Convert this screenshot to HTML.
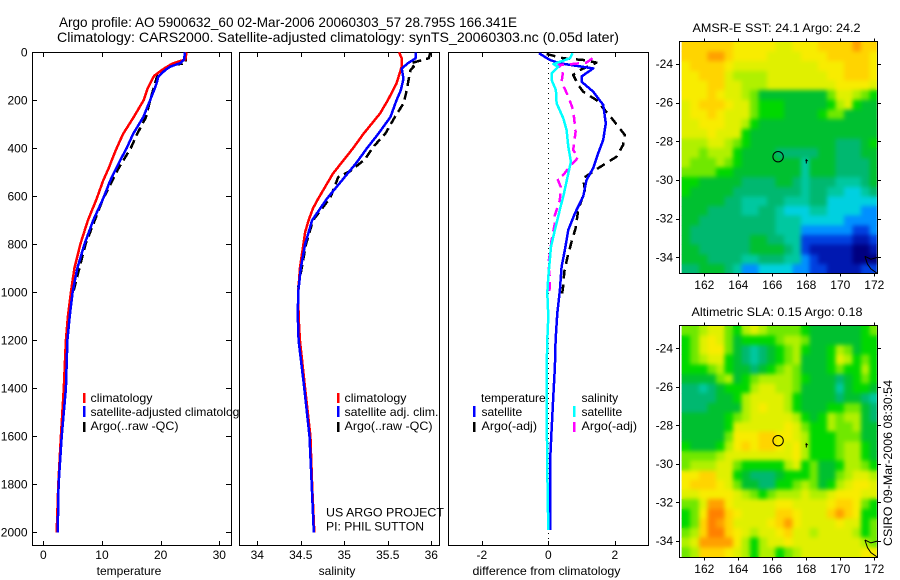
<!DOCTYPE html>
<html>
<head>
<meta charset="utf-8">
<title>Argo profile 5900632_60</title>
<style>
html,body{margin:0;padding:0;background:#fff;}
svg{display:block;font-family:"Liberation Sans",sans-serif;fill:#000;}
text{font-size:12px;}
.frame{fill:#fff;stroke:#000;stroke-width:1;shape-rendering:crispEdges;}
.mapframe{fill:none;stroke:#000;stroke-width:1;shape-rendering:crispEdges;}
.tick{stroke:#000;stroke-width:1;shape-rendering:crispEdges;}
.curve{fill:none;stroke-width:2.5;stroke-linejoin:round;shape-rendering:crispEdges;}
.mid{text-anchor:middle;}
.end{text-anchor:end;}
</style>
</head>
<body>
<svg id="chart" xmlns="http://www.w3.org/2000/svg" width="900" height="580" viewBox="0 0 900 580">
  <defs>
    <filter id="soften-sst" filterUnits="userSpaceOnUse" x="660" y="20" width="240" height="280" color-interpolation-filters="sRGB"><feGaussianBlur stdDeviation="2.2"/></filter>
    <filter id="soften-sla" filterUnits="userSpaceOnUse" x="660" y="305" width="240" height="275" color-interpolation-filters="sRGB"><feGaussianBlur stdDeviation="2.2"/></filter>
    <clipPath id="clip-sst"><rect x="681.7" y="42" width="195" height="231"/></clipPath>
    <clipPath id="clip-sla"><rect x="681.7" y="326" width="195" height="231"/></clipPath>
  </defs>
  <rect x="0" y="0" width="900" height="580" fill="#fff"/>
  <text x="59" y="27" style="font-size:14px" textLength="458" lengthAdjust="spacingAndGlyphs">Argo profile: AO 5900632_60 02-Mar-2006 20060303_57 28.795S 166.341E</text>
  <text x="57" y="42" style="font-size:14px" textLength="562" lengthAdjust="spacingAndGlyphs">Climatology: CARS2000. Satellite-adjusted climatology: synTS_20060303.nc (0.05d later)</text>

  <!-- Temperature panel -->
  <g id="panel-temp">
    <rect class="frame" x="32.5" y="52.5" width="199" height="493"/>
    <g id="temp-marks"></g>
    <rect x="83" y="393" width="2.5" height="10" fill="#f00"/>
    <rect x="83" y="406" width="2.5" height="11" fill="#00f"/>
    <rect x="83" y="422" width="2.5" height="10" fill="#000"/>
    <text x="90.5" y="402" textLength="62" lengthAdjust="spacingAndGlyphs">climatology</text>
    <text x="90.5" y="416" textLength="155" lengthAdjust="spacingAndGlyphs">satellite-adjusted climatology</text>
    <text x="90.5" y="430" textLength="88" lengthAdjust="spacingAndGlyphs">Argo(..raw -QC)</text>
    <text class="mid" x="129" y="575">temperature</text>
  </g>

  <!-- Salinity panel -->
  <g id="panel-sal">
    <rect class="frame" x="239.5" y="52.5" width="200" height="493"/>
    <g id="sal-marks"></g>
    <rect x="337" y="393" width="2.5" height="10" fill="#f00"/>
    <rect x="337" y="406" width="2.5" height="11" fill="#00f"/>
    <rect x="337" y="422" width="2.5" height="10" fill="#000"/>
    <text x="344.5" y="402" textLength="62" lengthAdjust="spacingAndGlyphs">climatology</text>
    <text x="344.5" y="416" textLength="94" lengthAdjust="spacingAndGlyphs">satellite adj. clim.</text>
    <text x="344.5" y="430" textLength="88" lengthAdjust="spacingAndGlyphs">Argo(..raw -QC)</text>
    <text x="326" y="516.5" textLength="118" lengthAdjust="spacingAndGlyphs">US ARGO PROJECT</text>
    <text x="326" y="530.5" textLength="98" lengthAdjust="spacingAndGlyphs">PI: PHIL SUTTON</text>
    <text class="mid" x="337" y="575">salinity</text>
  </g>

  <!-- Difference panel -->
  <g id="panel-diff">
    <rect class="frame" x="448.5" y="52.5" width="200" height="493"/>
    <g id="diff-marks"></g>
    <text x="481" y="402">temperature</text>
    <text x="581.5" y="402">salinity</text>
    <rect x="473" y="406" width="2.5" height="11" fill="#00f"/>
    <rect x="473" y="422" width="2.5" height="10" fill="#000"/>
    <rect x="573" y="406" width="2.5" height="11" fill="#0ff"/>
    <rect x="573" y="422" width="2.5" height="10" fill="#f0f"/>
    <text x="481.5" y="416">satellite</text>
    <text x="481.5" y="430" textLength="55.5" lengthAdjust="spacingAndGlyphs">Argo(-adj)</text>
    <text x="581.5" y="416">satellite</text>
    <text x="581.5" y="430" textLength="55.5" lengthAdjust="spacingAndGlyphs">Argo(-adj)</text>
    <text class="mid" x="546.5" y="575" textLength="148" lengthAdjust="spacingAndGlyphs">difference from climatology</text>
  </g>

  <!-- Maps -->
  <g id="map-sst"></g>
  <g id="map-sla"></g>
  <text x="692.5" y="32" textLength="168" lengthAdjust="spacingAndGlyphs">AMSR-E SST: 24.1  Argo: 24.2</text>
  <text x="691.5" y="316" textLength="171" lengthAdjust="spacingAndGlyphs">Altimetric SLA: 0.15  Argo: 0.18</text>
  <text transform="translate(892,546) rotate(-90)" textLength="166" lengthAdjust="spacingAndGlyphs">CSIRO 09-Mar-2006 08:30:54</text>
</svg>

<script>
// ---------- Axis tick labels ----------
const depthTicks = [0,200,400,600,800,1000,1200,1400,1600,1800,2000];
const tempTicks = [0,10,20,30];
const salTicks = [34,34.5,35,35.5,36];
const diffTicks = [-2,0,2];
const lonTicks = [162,164,166,168,170,172];
const latTicks = [24,26,28,30,32,34];

// ---------- Profile data ----------
const tempDepths = [0,30,46,60,74,96,102,130,150,200,270,340,400,450,480,535,610,700,800,900,1000,1100,1200,1400,1600,1800,2000];
const tempClim = [24.4,24.2,22.1,21.1,20.2,19.0,18.8,18.2,17.8,17.1,15.4,13.6,12.5,11.65,11.2,10.2,9.1,7.6,6.3,5.3,4.7,4.2,3.85,3.5,3.0,2.56,2.28];
const tempSat = [24.15,24.0,23.3,21.6,20.8,19.8,19.6,19.3,19.0,18.2,17.05,15.3,14.2,13.1,12.5,11.4,10.2,8.5,7.0,5.8,5.0,4.5,4.1,3.85,3.13,2.6,2.45];
const tempArgoDepths = [0,45,55,80,100,150,200,270,340,400,480,610,800,1000];
const tempArgo = [24.3,24.3,21.5,20.3,19.4,18.8,18.2,17.5,16.0,14.9,12.9,10.2,7.2,5.1];

const salDepths = [0,25,60,130,200,255,340,400,505,610,650,700,750,800,900,1000,1100,1200,1400,1600,1800,2000];
const salClim = [35.63,35.66,35.66,35.6,35.5,35.41,35.22,35.1,34.87,34.7,34.64,34.59,34.55,34.53,34.49,34.47,34.475,34.49,34.55,34.61,34.63,34.655];
const salSatDepths = [0,25,46,68,110,158,200,270,340,400,460,610,700,800,900,1000,1100,1200,1400,1600,1800,2000];
const salSat = [35.82,35.82,35.73,35.66,35.68,35.65,35.6,35.53,35.39,35.26,35.14,34.8,34.63,34.55,34.5,34.47,34.465,34.475,34.54,34.6,34.625,34.65];
const salArgoDepths = [0,25,46,60,75,170,213,270,340,395,445,495,520,605,700,800,1000];
const salArgo = [35.99,35.97,35.76,35.8,35.76,35.71,35.68,35.58,35.47,35.33,35.24,35.07,34.93,34.84,34.64,34.56,34.46];

const diffTempSatDepths = [4,32,46,67,101,122,164,219,296,365,421,483,532,601,671,740,823,893,990,1087,1198,1309,1434,1573,1712,1990];
const diffTempSat = [-0.28,0.05,0.35,1.35,1.0,1.0,1.35,1.65,1.73,1.65,1.5,1.35,1.15,1.05,0.8,0.6,0.5,0.4,0.35,0.27,0.22,0.2,0.15,0.1,0.05,0.05];
const diffSalSatDepths = [4,25,49,60,88,115,157,212,275,324,393,456,504,601,643,740,810,935,1004,1101,1198,1337,1448,1740,1990];
const diffSalSat = [0.73,0.65,0.15,0.3,0.1,0.1,0.23,0.25,0.45,0.55,0.6,0.68,0.6,0.45,0.37,0.2,0.08,0,-0.03,0,-0.03,-0.05,-0.05,-0.03,0];
const diffTempArgoDepths = [7,25,32,43,74,94,136,164,199,282,344,386,435,483,525,574,657,733,789,851,914,969,1025];
const diffTempArgo = [-0.05,0.45,1.05,1.45,0.95,0.75,0.9,1.05,1.45,1.95,2.3,2.25,2.05,1.5,1.05,1.1,0.9,0.82,0.7,0.58,0.48,0.45,0.4];
const diffSalArgoDepths = [25,43,49,53,74,122,185,240,331,407,438,476,511,525,560,615,678,712,782,837,879,949,1004];
const diffSalArgo = [1.33,1.15,0.7,0.3,0.45,0.4,0.6,0.75,0.82,0.75,0.9,0.65,0.45,0.27,0.37,0.35,0.2,0.2,0.1,0.05,0,0.05,0.03];

// ---------- Map data (colour index per half-degree cell) ----------
const sstGrid = [
[13,13,13,13,13,13,12,12,12,12,12,11,11,12,12,12,13,13,13,13,14,13,13],
[13,13,13,14,14,13,12,12,12,12,11,11,11,11,12,12,12,13,13,13,13,13,12],
[12,13,13,13,13,12,11,11,11,11,11,11,11,11,11,11,12,12,12,13,13,13,12],
[12,12,13,13,13,11,10,10,10,10,11,11,11,11,11,11,11,12,12,13,13,13,12],
[12,12,12,13,13,11,11,10,10,10,11,11,11,11,11,11,11,11,12,12,12,12,11],
[12,12,12,13,12,11,11,10,9,7,7,7,7,7,7,7,7,9,11,11,10,9,8],
[11,12,13,13,13,12,11,11,9,8,8,8,7,7,7,7,7,8,10,11,8,7,7],
[11,12,12,13,12,11,11,11,9,8,8,8,7,7,7,7,8,9,9,7,7,7,7],
[11,11,12,12,12,11,11,10,8,7,7,7,7,7,7,7,7,7,7,7,7,7,7],
[11,11,11,12,11,11,11,8,7,7,7,7,7,7,7,7,7,7,7,7,7,7,7],
[10,10,10,11,11,10,9,8,7,7,7,7,7,7,7,7,7,7,6,6,6,7,8],
[10,10,9,10,10,10,8,7,7,7,7,6,6,6,6,6,7,7,6,6,6,7,7],
[10,9,9,9,10,9,8,7,7,7,7,7,7,7,5,7,7,7,6,6,6,6,7],
[9,9,9,9,8,8,7,7,7,7,7,7,7,7,5,7,7,7,6,6,6,6,7],
[8,8,7,7,7,7,7,6,6,6,6,7,7,6,5,6,6,6,5,5,5,6,7],
[8,7,7,7,7,7,6,6,6,6,6,6,6,6,5,6,6,5,5,4,4,5,6],
[7,7,7,7,7,6,6,5,5,5,6,6,5,5,5,6,6,4,4,4,4,4,4],
[7,7,7,6,6,6,6,5,5,6,6,5,4,4,4,5,5,4,4,4,4,3,3],
[7,7,6,6,6,6,6,6,6,6,6,5,5,5,4,4,4,4,4,3,3,3,3],
[7,6,6,6,6,6,6,6,6,6,6,5,5,5,3,3,3,3,3,3,2,2,3],
[7,6,6,6,6,6,6,6,7,7,6,6,5,5,2,2,2,2,2,2,1,1,2],
[7,7,6,6,6,6,6,6,7,7,7,7,6,5,2,1,1,1,1,1,0,0,1],
[7,7,7,6,6,6,6,5,5,6,6,6,5,5,3,2,1,1,1,1,0,0,0],
[6,6,7,7,7,6,5,3,3,4,4,4,4,3,3,2,2,1,1,1,1,2,2]
];
const slaGrid = [
[9,9,10,11,11,9,8,10,11,10,9,9,9,9,8,7,7,7,7,7,7,8,9],
[8,9,11,12,11,9,7,8,8,8,8,9,10,10,9,7,7,7,7,7,7,8,8],
[8,9,11,12,12,9,7,6,5,6,7,8,9,10,8,7,7,8,10,9,7,8,8],
[8,9,10,11,11,8,7,6,5,6,7,8,9,10,7,7,7,8,11,10,8,9,8],
[8,8,8,9,10,8,7,7,6,7,8,9,10,9,7,7,7,8,9,8,8,10,8],
[7,7,7,7,9,10,7,8,9,10,10,10,10,9,8,7,7,7,6,7,8,9,8],
[6,6,5,6,7,8,8,8,10,11,11,10,10,9,7,7,7,7,5,7,8,8,7],
[6,6,6,6,7,7,8,10,11,11,11,11,10,8,7,7,7,7,6,7,7,6,5],
[6,6,6,7,7,7,7,10,11,12,11,11,10,8,7,7,7,8,8,9,9,7,6],
[7,7,7,7,7,8,9,10,11,11,11,11,11,10,8,7,8,10,9,10,10,7,6],
[7,7,7,7,7,8,11,11,11,11,11,11,12,11,9,8,8,10,9,9,10,7,7],
[7,7,7,7,7,9,12,12,12,13,13,12,12,11,10,8,8,8,9,9,9,7,7],
[8,7,7,7,8,10,12,13,12,13,13,12,11,12,10,8,8,8,9,10,10,8,7],
[9,9,9,9,10,11,11,11,11,11,11,11,11,12,10,8,8,8,9,10,10,8,7],
[9,10,10,10,11,11,9,8,8,8,8,8,10,11,8,9,7,7,8,10,10,9,8],
[12,12,13,13,11,11,8,7,6,6,6,7,8,8,8,9,7,7,9,10,11,11,10],
[12,13,13,13,12,11,9,7,7,6,6,8,8,9,10,9,7,8,10,11,12,12,11],
[11,11,12,12,12,12,11,10,9,8,9,10,10,10,11,10,10,11,12,12,12,11,11],
[9,9,11,14,14,12,11,11,11,11,11,12,12,11,11,11,11,12,13,13,12,9,8],
[8,9,12,15,15,13,12,11,11,11,11,13,13,12,11,11,11,13,14,13,12,8,8],
[8,9,13,15,14,13,11,11,11,11,12,13,14,12,11,11,11,11,12,11,11,8,9],
[9,10,13,15,15,13,12,11,10,11,11,12,13,11,11,10,11,11,11,11,10,8,9],
[10,11,14,14,14,14,12,10,8,10,11,11,12,11,11,11,11,11,11,11,11,10,9],
[9,10,13,13,13,12,11,10,8,10,10,8,9,10,11,11,11,11,11,11,11,12,12]
];
const colourRamp = ['#000080','#0018b0','#0040e0','#0090ff','#00d0e0','#00c8a0','#00b870','#00c030','#00d800','#70e800','#b0f000','#e0f000','#f8ec00','#ffd400','#ffa000','#ff8000'];
const floatLon = [166.341];
const floatLat = [28.795];
const trackLon = [167.95,168.05,168.0,168.0];
const trackLat = [29.0,29.0,28.95,29.15];
const coastLon = [171.45,171.6,171.8,172.2];
const coastLat = [33.95,34.35,34.6,34.85];
const coast2Lon = [171.45,171.8,172.2];
const coast2Lat = [33.95,34.1,34.0];

// ---------- Axis functions ----------
const NS = 'http://www.w3.org/2000/svg';
const yDepth = d => 52.3 + d * 0.24;
const xTemp = t => 43.3 + t * 5.867;
const xSal = s => 257.3 + (s - 34) * 87;
const xDiff = d => 548.3 + d * 33.25;
const xLon = l => 704.3 + (l - 162) * 17;
const ySst = l => 64 + (l - 24) * 19.33;
const ySla = l => 348.3 + (l - 24) * 19.27;

function mk(tag, parent, cls) {
  const el = document.createElementNS(NS, tag);
  if (cls) el.setAttribute('class', cls);
  parent.appendChild(el);
  return el;
}
function pts(xs, ys, fx, fy) {
  return xs.map((v, i) => fx(v).toFixed(1) + ',' + fy(ys[i]).toFixed(1)).join(' ');
}
function curve(parent, name, vals, depths, fx, color, dash) {
  const el = mk('polyline', parent, 'curve');
  
  
  el.setAttribute('points', pts(vals, depths, fx, yDepth));
  el.setAttribute('stroke', color);
  if (dash) el.setAttribute('stroke-dasharray', dash);
}
function tickLine(parent, x1, y1, x2, y2) {
  const el = mk('line', parent, 'tick');
  
  
  el.setAttribute('x1', x1);
  el.setAttribute('y1', y1);
  el.setAttribute('x2', x2);
  el.setAttribute('y2', y2);
}
function tickText(parent, x, y, str, cls) {
  const el = mk('text', parent, cls);
  
  
  el.setAttribute('x', x);
  el.setAttribute('y', y);
  el.textContent = str;
}
function xAxis(parent, ticks, fx) {
  ticks.forEach(t => {
    const x = Math.round(fx(t)) + 0.5;
    tickLine(parent, x, 53, x, 57);
    tickLine(parent, x, 545, x, 541);
    tickText(parent, fx(t), 559, String(t), 'mid');
  });
}

// ---------- Profile panels ----------
const tg = document.getElementById('temp-marks');
depthTicks.forEach(d => {
  const y = Math.round(yDepth(d)) + 0.5;
  tickLine(tg, 33, y, 37, y);
  tickLine(tg, 231, y, 226, y);
  tickText(tg, 27.5, yDepth(d) + 4, String(d), 'end');
});
xAxis(tg, tempTicks, xTemp);
curve(tg, 'temperature-argo-line', tempArgo, tempArgoDepths, xTemp, '#000', '9 5');
curve(tg, 'temperature-climatology-line', tempClim, tempDepths, xTemp, '#f00');
curve(tg, 'temperature-satellite-line', tempSat, tempDepths, xTemp, '#00f');

const sg = document.getElementById('sal-marks');
xAxis(sg, salTicks, xSal);
curve(sg, 'salinity-argo-line', salArgo, salArgoDepths, xSal, '#000', '9 5');
curve(sg, 'salinity-climatology-line', salClim, salDepths, xSal, '#f00');
curve(sg, 'salinity-satellite-line', salSat, salSatDepths, xSal, '#00f');

const dg = document.getElementById('diff-marks');
xAxis(dg, diffTicks, xDiff);
const zeroLine = mk('line', dg);


zeroLine.setAttribute('x1', Math.round(xDiff(0)) + 0.5);
zeroLine.setAttribute('x2', Math.round(xDiff(0)) + 0.5);
zeroLine.setAttribute('y1', 53);
zeroLine.setAttribute('y2', 545);
zeroLine.setAttribute('stroke', '#000');
zeroLine.setAttribute('stroke-dasharray', '1 4');
curve(dg, 'difference-temperature-argo-line', diffTempArgo, diffTempArgoDepths, xDiff, '#000', '9 6');
curve(dg, 'difference-temperature-satellite-line', diffTempSat, diffTempSatDepths, xDiff, '#00f');
curve(dg, 'difference-salinity-argo-line', diffSalArgo, diffSalArgoDepths, xDiff, '#f0f', '9 6');
curve(dg, 'difference-salinity-satellite-line', diffSalSat, diffSalSatDepths, xDiff, '#0ff');

// ---------- Maps ----------
function drawMap(parent, key, grid, fy, topLat, frameTop, frameH, labelY) {
  const clipGroup = mk('g', parent);
  
  
  clipGroup.setAttribute('clip-path', 'url(#clip-' + key + ')');
  const cells = mk('g', clipGroup);
  cells.setAttribute('id', key + '-cells');
  
  
  cells.setAttribute('shape-rendering', 'crispEdges');
  grid.forEach((row, r) => {
    row.forEach((v, c) => {
      const cell = mk('rect', cells);
      
      
      const lon0 = 160.67 + c * 0.502;
      const lat0 = topLat + r * 0.5;
      cell.setAttribute('x', xLon(lon0).toFixed(2));
      cell.setAttribute('y', fy(lat0).toFixed(2));
      cell.setAttribute('width', (xLon(lon0 + 0.502) - xLon(lon0) + 0.4).toFixed(2));
      cell.setAttribute('height', (fy(lat0 + 0.5) - fy(lat0) + 0.4).toFixed(2));
      cell.setAttribute('fill', colourRamp[v]);
    });
  });
  const soft = mk('use', clipGroup);
  
  
  soft.setAttribute('href', '#' + key + '-cells');
  soft.setAttribute('filter', 'url(#soften-' + key + ')');
  const frame = mk('rect', parent, 'mapframe');
  
  
  frame.setAttribute('x', 679.5);
  frame.setAttribute('y', frameTop);
  frame.setAttribute('width', 198);
  frame.setAttribute('height', frameH);
  lonTicks.forEach(l => {
    const x = Math.round(xLon(l)) + 0.5;
    tickLine(parent, x, frameTop - 3, x, frameTop);
    tickLine(parent, x, frameTop + frameH, x, frameTop + frameH + 3);
    tickText(parent, xLon(l), labelY, String(l), 'mid');
  });
  latTicks.forEach(l => {
    const y = Math.round(fy(l)) + 0.5;
    tickLine(parent, 676, y, 679.5, y);
    tickLine(parent, 877.5, y, 881, y);
    tickText(parent, 673, fy(l) + 4, '-' + l, 'end');
  });
  const track = mk('polyline', parent);
  
  
  track.setAttribute('points', pts(trackLon, trackLat, xLon, fy));
  track.setAttribute('fill', 'none');
  track.setAttribute('stroke', '#000');
  track.setAttribute('stroke-width', '1');
  const coastA = mk('polyline', parent);
  
  
  coastA.setAttribute('points', pts(coastLon, coastLat, xLon, fy));
  coastA.setAttribute('fill', 'none');
  coastA.setAttribute('stroke', '#000');
  const coastB = mk('polyline', parent);
  
  
  coastB.setAttribute('points', pts(coast2Lon, coast2Lat, xLon, fy));
  coastB.setAttribute('fill', 'none');
  coastB.setAttribute('stroke', '#000');
  const circle = mk('circle', parent);
  
  
  circle.setAttribute('cx', xLon(floatLon[0]).toFixed(1));
  circle.setAttribute('cy', fy(floatLat[0]).toFixed(1));
  circle.setAttribute('r', 5.2);
  circle.setAttribute('fill', 'none');
  circle.setAttribute('stroke', '#000');
}
drawMap(document.getElementById('map-sst'), 'sst', sstGrid, ySst, 22.85, 41.5, 232, 289);
drawMap(document.getElementById('map-sla'), 'sla', slaGrid, ySla, 22.83, 325.5, 232, 573);
</script>
</body>
</html>
